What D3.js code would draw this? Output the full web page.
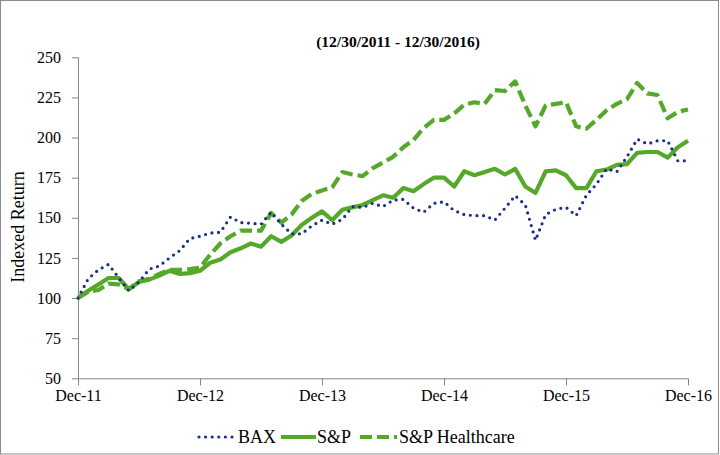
<!DOCTYPE html>
<html>
<head>
<meta charset="utf-8">
<script src="https://cdn.jsdelivr.net/npm/d3@7"></script>
<style>
  body { margin: 0; background: #fff; }
  svg { display: block; font-family: "Liberation Serif", "Times New Roman", serif; }
  .axis path, .axis line { stroke: #868686; }
  .axis text { font-size: 16px; fill: #000; font-family: "Liberation Serif", serif; }
</style>
</head>
<body>
<svg width="720" height="455"></svg>
<script>
// month index 0 = Dec-11 ... 60 = Dec-16
const yearLabels = ["Dec-11", "Dec-12", "Dec-13", "Dec-14", "Dec-15", "Dec-16"];
const yTicks = [50, 75, 100, 125, 150, 175, 200, 225, 250];

const bax = [100, 112, 117.5, 121, 112.7, 104.5, 110, 118, 120, 125,
    129.5, 137, 138.5, 140.5, 141, 150.5, 147, 146.6, 146, 153.5,
    146, 140, 140, 145, 148.5, 146, 149, 157, 156.5, 159,
    157, 161, 161.5, 156, 153.5, 159, 160, 154.5, 152, 151.3,
    151.3, 148.6, 156, 163.8, 158, 136, 152, 155.3, 156.5, 151.3,
    164, 171, 180.5, 178.7, 188, 199, 196, 198, 198, 185.5,
    185.5];

const sp = [100, 104.5, 108.5, 112.5, 112.5, 105.5, 110, 111.5, 114, 117,
    115, 115.5, 117, 122, 124, 128.5, 131, 134, 132, 138.5,
    135, 139, 145.5, 150, 154, 148.5, 155, 156.5, 158, 161,
    164, 162.5, 168.5, 166.5, 171, 175, 175, 169.5, 179, 176.5,
    178.5, 180.5, 177, 180.5, 169.5, 165.5, 179, 179.5, 176.5, 168.5,
    168.5, 179, 180, 183, 183.5, 190.5, 191, 191, 187.5, 194,
    198];

const spHealth = [100, 104, 105, 109, 108.5, 105.5, 110.5, 112, 115, 117.5,
    117.5, 118, 119, 127, 134, 138.5, 142, 142, 142, 153,
    147, 152, 160.5, 165, 167, 169, 178.5, 177, 176, 181,
    184.5, 188, 194, 198.5, 206, 211, 211, 215, 220.5, 222,
    221, 229.5, 229, 235, 220, 207, 220, 221, 222, 207,
    205.5, 211, 217, 221, 224, 234, 227.5, 226.5, 212, 216,
    217.5];

const seriesNames = ["BAX", "S&P", "S&P Healthcare"];
const seriesData = [bax, sp, spHealth];

const blue = "#1b2f86";
const green = "#55a829";
const styles = [
    { color: blue, width: 3.2, dash: "0,6.6", cap: "round" },
    { color: green, width: 4.2, dash: null, cap: "butt" },
    { color: green, width: 4.2, dash: "12,5", cap: "butt" }
];

const svg = d3.select("svg");

svg.append("rect")
    .attr("x", 0.5).attr("y", 0.5)
    .attr("width", 718).attr("height", 453.5)
    .attr("fill", "none").attr("stroke", "#8c8c8c");

const x = d3.scaleLinear().domain([0, 60]).range([78, 688]);
const y = d3.scaleLinear().domain([50, 250]).range([378.3, 57.3]);

const xAxis = d3.axisBottom(x)
    .tickValues([0, 12, 24, 36, 48, 60])
    .tickFormat((d, i) => yearLabels[i])
    .tickSize(7)
    .tickPadding(4);

const yAxis = d3.axisLeft(y)
    .tickValues(yTicks)
    .tickSize(6)
    .tickPadding(11);

svg.append("g")
    .attr("class", "axis")
    .attr("transform", "translate(0," + y(50) + ")")
    .call(xAxis)
    .call(g => g.select(".domain").attr("d", "M" + x(0) + ",0.5H" + x(60)));

svg.append("g")
    .attr("class", "axis")
    .attr("transform", "translate(" + x(0) + ",0)")
    .call(yAxis)
    .call(g => g.select(".domain").attr("d", "M0.5," + y(250) + "V" + y(50)));

const line = d3.line()
    .x((d, i) => x(i))
    .y(d => y(d));

// draw healthcare first, then S&P, then BAX on top
[2, 1, 0].forEach(k => {
    const s = styles[k];
    svg.append("path")
        .datum(seriesData[k])
        .attr("fill", "none")
        .attr("stroke", s.color)
        .attr("stroke-width", s.width)
        .attr("stroke-linecap", s.cap)
        .attr("stroke-linejoin", "round")
        .attr("stroke-dasharray", s.dash)
        .attr("d", line);
});

// title
svg.append("text")
    .attr("x", 398)
    .attr("y", 47)
    .attr("text-anchor", "middle")
    .attr("font-weight", "bold")
    .attr("font-size", "15.5px")
    .text("(12/30/2011 - 12/30/2016)");

// y axis label
svg.append("text")
    .attr("transform", "translate(24,227) rotate(-90)")
    .attr("text-anchor", "middle")
    .attr("font-size", "18px")
    .text("Indexed Return");

// legend
const legendItems = [
    { x1: 199, x2: 236, tx: 238 },
    { x1: 281, x2: 316, tx: 317 },
    { x1: 360, x2: 397, tx: 399 }
];
const legend = svg.append("g");
legendItems.forEach((it, k) => {
    const s = styles[k];
    legend.append("line")
        .attr("x1", it.x1).attr("x2", it.x2)
        .attr("y1", 437).attr("y2", 437)
        .attr("stroke", s.color)
        .attr("stroke-width", s.width)
        .attr("stroke-linecap", s.cap)
        .attr("stroke-dasharray", s.dash);
    legend.append("text")
        .attr("x", it.tx)
        .attr("y", 443)
        .attr("font-size", "18px")
        .text(seriesNames[k]);
});
</script>
</body>
</html>
